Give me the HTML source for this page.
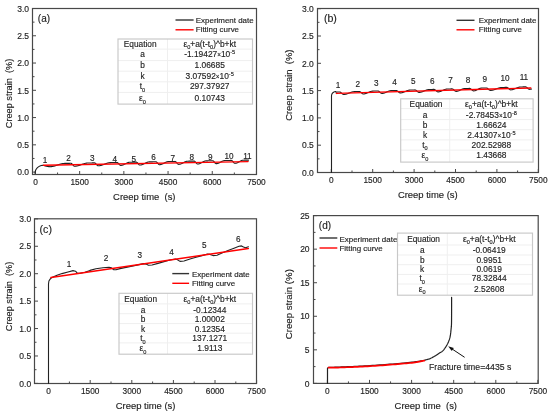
<!DOCTYPE html>
<html><head><meta charset="utf-8"><style>
html,body{margin:0;padding:0;background:#fff;width:550px;height:413px;overflow:hidden;position:relative}
svg text{font-family:"Liberation Sans", sans-serif}
svg{will-change:transform;filter:blur(0.25px)}
svg text{stroke:#1e1e1e;stroke-width:0.15px}
</style></head><body>
<svg width="550" height="413" viewBox="0 0 550 413" style="position:absolute;left:0;top:0" font-family='"Liberation Sans", sans-serif' fill="#1e1e1e">
<rect width="550" height="413" fill="#fff"/>
<rect x="32.5" y="8.5" width="224" height="166" fill="none" stroke="#484848" stroke-width="1.2"/>
<line x1="32.5" y1="172.1" x2="36" y2="172.1" stroke="#484848" stroke-width="1"/>
<line x1="32.5" y1="144.83" x2="36" y2="144.83" stroke="#484848" stroke-width="1"/>
<line x1="32.5" y1="117.57" x2="36" y2="117.57" stroke="#484848" stroke-width="1"/>
<line x1="32.5" y1="90.3" x2="36" y2="90.3" stroke="#484848" stroke-width="1"/>
<line x1="32.5" y1="63.04" x2="36" y2="63.04" stroke="#484848" stroke-width="1"/>
<line x1="32.5" y1="35.78" x2="36" y2="35.78" stroke="#484848" stroke-width="1"/>
<line x1="32.5" y1="8.51" x2="36" y2="8.51" stroke="#484848" stroke-width="1"/>
<line x1="32.5" y1="158.47" x2="34.5" y2="158.47" stroke="#484848" stroke-width="1"/>
<line x1="32.5" y1="131.2" x2="34.5" y2="131.2" stroke="#484848" stroke-width="1"/>
<line x1="32.5" y1="103.94" x2="34.5" y2="103.94" stroke="#484848" stroke-width="1"/>
<line x1="32.5" y1="76.67" x2="34.5" y2="76.67" stroke="#484848" stroke-width="1"/>
<line x1="32.5" y1="49.41" x2="34.5" y2="49.41" stroke="#484848" stroke-width="1"/>
<line x1="32.5" y1="22.14" x2="34.5" y2="22.14" stroke="#484848" stroke-width="1"/>
<line x1="35.45" y1="174.5" x2="35.45" y2="171" stroke="#484848" stroke-width="1"/>
<line x1="79.65" y1="174.5" x2="79.65" y2="171" stroke="#484848" stroke-width="1"/>
<line x1="123.85" y1="174.5" x2="123.85" y2="171" stroke="#484848" stroke-width="1"/>
<line x1="168.05" y1="174.5" x2="168.05" y2="171" stroke="#484848" stroke-width="1"/>
<line x1="212.25" y1="174.5" x2="212.25" y2="171" stroke="#484848" stroke-width="1"/>
<line x1="256.45" y1="174.5" x2="256.45" y2="171" stroke="#484848" stroke-width="1"/>
<line x1="57.55" y1="174.5" x2="57.55" y2="172.5" stroke="#484848" stroke-width="1"/>
<line x1="101.75" y1="174.5" x2="101.75" y2="172.5" stroke="#484848" stroke-width="1"/>
<line x1="145.95" y1="174.5" x2="145.95" y2="172.5" stroke="#484848" stroke-width="1"/>
<line x1="190.15" y1="174.5" x2="190.15" y2="172.5" stroke="#484848" stroke-width="1"/>
<line x1="234.35" y1="174.5" x2="234.35" y2="172.5" stroke="#484848" stroke-width="1"/>
<text x="29" y="175.3" font-size="8.5" text-anchor="end" >0.0</text>
<text x="29" y="148.03" font-size="8.5" text-anchor="end" >0.5</text>
<text x="29" y="120.77" font-size="8.5" text-anchor="end" >1.0</text>
<text x="29" y="93.5" font-size="8.5" text-anchor="end" >1.5</text>
<text x="29" y="66.24" font-size="8.5" text-anchor="end" >2.0</text>
<text x="29" y="38.98" font-size="8.5" text-anchor="end" >2.5</text>
<text x="29" y="11.71" font-size="8.5" text-anchor="end" >3.0</text>
<text x="35.45" y="184.6" font-size="8.3" text-anchor="middle" >0</text>
<text x="79.65" y="184.6" font-size="8.3" text-anchor="middle" >1500</text>
<text x="123.85" y="184.6" font-size="8.3" text-anchor="middle" >3000</text>
<text x="168.05" y="184.6" font-size="8.3" text-anchor="middle" >4500</text>
<text x="212.25" y="184.6" font-size="8.3" text-anchor="middle" >6000</text>
<text x="256.45" y="184.6" font-size="8.3" text-anchor="middle" >7500</text>
<path d="M35,173.3 L35.01,172.88 L35.05,172.46 L35.1,172.05 L35.18,171.64 L35.29,171.23 L35.41,170.83 L35.56,170.44 L35.73,170.05 L35.92,169.67 L36.13,169.3 L36.36,168.95 L36.6,168.6 L36.87,168.27 L37.16,167.95 L37.46,167.65 L37.78,167.36 L38.11,167.09 L38.46,166.83 L38.83,166.6 L39.2,166.38 L39.59,166.18 L39.98,166 L40.39,165.84 L40.8,165.7 L41.23,165.58 L41.65,165.48 L42.09,165.4 L42.52,165.35 L42.96,165.32 L43.4,165.31 L43.2,165.31 L43.43,165.38 L43.66,165.45 L43.89,165.52 L44.11,165.59 L44.34,165.66 L44.57,165.73 L44.8,165.8 L45.03,165.86 L45.26,165.93 L45.48,165.99 L45.71,166.05 L45.94,166.11 L46.17,166.17 L46.4,166.22 L46.63,166.27 L46.85,166.32 L47.08,166.37 L47.31,166.41 L47.54,166.46 L47.77,166.49 L48,166.53 L48.22,166.56 L48.45,166.59 L48.68,166.61 L48.91,166.63 L49.14,166.65 L49.37,166.66 L49.59,166.67 L49.82,166.68 L50.05,166.68 L50.28,166.68 L50.51,166.67 L50.74,166.66 L50.96,166.65 L51.19,166.63 L51.42,166.61 L51.65,166.59 L51.88,166.56 L52.11,166.53 L52.33,166.49 L52.56,166.45 L52.79,166.41 L53.02,166.37 L53.25,166.32 L53.48,166.27 L53.7,166.21 L53.93,166.16 L54.16,166.1 L54.39,166.04 L54.62,165.97 L54.85,165.91 L55.07,165.84 L55.3,165.77 L55.53,165.7 L55.76,165.62 L55.99,165.55 L56.22,165.47 L56.45,165.39 L56.67,165.32 L56.9,165.24 L57.13,165.16 L57.36,165.08 L57.59,165 L57.82,164.92 L58.04,164.84 L58.27,164.76 L58.5,164.69 L58.73,164.61 L58.96,164.53 L59.19,164.46 L59.41,164.38 L59.64,164.31 L59.87,164.24 L60.1,164.18 L60.33,164.11 L60.56,164.05 L60.78,163.98 L61.01,163.93 L61.24,163.87 L61.47,163.82 L61.7,163.77 L61.93,163.72 L62.15,163.67 L62.38,163.63 L62.61,163.6 L62.84,163.56 L63.07,163.53 L63.3,163.5 L63.52,163.48 L63.75,163.46 L63.98,163.44 L64.21,163.43 L64.44,163.42 L64.67,163.42 L64.89,163.41 L65.12,163.41 L65.35,163.4 L65.58,163.4 L65.81,163.4 L66.04,163.39 L66.26,163.39 L66.49,163.38 L66.72,163.38 L66.95,163.38 L67.18,163.37 L67.41,163.37 L67.64,163.36 L67.86,163.36 L68.09,163.36 L68.32,163.35 L68.55,163.35 L68.78,163.34 L69.01,163.34 L69.23,163.33 L69.46,163.33 L69.69,163.33 L69.92,163.32 L70.15,163.32 L70.38,163.31 L70.6,163.31 L70.83,163.31 L71.06,163.32 L71.29,163.38 L71.52,163.49 L71.75,163.66 L71.97,163.87 L72.2,164.11 L72.43,164.37 L72.66,164.66 L72.89,164.94 L73.12,165.22 L73.34,165.49 L73.57,165.72 L73.8,165.92 L74.03,166.07 L74.26,166.18 L74.49,166.23 L74.71,166.23 L74.94,166.23 L75.17,166.21 L75.4,166.2 L75.63,166.18 L75.86,166.15 L76.08,166.12 L76.31,166.09 L76.54,166.05 L76.77,166.01 L77,165.97 L77.23,165.92 L77.45,165.87 L77.68,165.82 L77.91,165.76 L78.14,165.7 L78.37,165.64 L78.6,165.57 L78.82,165.5 L79.05,165.43 L79.28,165.36 L79.51,165.28 L79.74,165.21 L79.97,165.13 L80.2,165.05 L80.42,164.97 L80.65,164.89 L80.88,164.8 L81.11,164.72 L81.34,164.64 L81.57,164.55 L81.79,164.47 L82.02,164.39 L82.25,164.31 L82.48,164.22 L82.71,164.14 L82.94,164.07 L83.16,163.99 L83.39,163.91 L83.62,163.84 L83.85,163.77 L84.08,163.7 L84.31,163.63 L84.53,163.56 L84.76,163.5 L84.99,163.44 L85.22,163.39 L85.45,163.33 L85.68,163.28 L85.9,163.24 L86.13,163.2 L86.36,163.16 L86.59,163.12 L86.82,163.09 L87.05,163.07 L87.27,163.04 L87.5,163.02 L87.73,163.01 L87.96,163 L88.19,162.99 L88.42,162.99 L88.64,162.98 L88.87,162.98 L89.1,162.97 L89.33,162.97 L89.56,162.97 L89.79,162.96 L90.01,162.96 L90.24,162.95 L90.47,162.95 L90.7,162.95 L90.93,162.94 L91.16,162.94 L91.38,162.93 L91.61,162.93 L91.84,162.93 L92.07,162.92 L92.3,162.92 L92.53,162.91 L92.76,162.91 L92.98,162.9 L93.21,162.9 L93.44,162.9 L93.67,162.89 L93.9,162.89 L94.13,162.88 L94.35,162.88 L94.58,162.88 L94.81,162.92 L95.04,163.02 L95.27,163.17 L95.5,163.36 L95.72,163.59 L95.95,163.85 L96.18,164.13 L96.41,164.42 L96.64,164.7 L96.87,164.97 L97.09,165.22 L97.32,165.43 L97.55,165.6 L97.78,165.72 L98.01,165.79 L98.24,165.81 L98.46,165.8 L98.69,165.79 L98.92,165.77 L99.15,165.75 L99.38,165.72 L99.61,165.69 L99.83,165.66 L100.06,165.62 L100.29,165.57 L100.52,165.52 L100.75,165.47 L100.98,165.41 L101.2,165.35 L101.43,165.28 L101.66,165.21 L101.89,165.14 L102.12,165.07 L102.35,164.99 L102.57,164.91 L102.8,164.83 L103.03,164.75 L103.26,164.66 L103.49,164.57 L103.72,164.49 L103.95,164.4 L104.17,164.31 L104.4,164.22 L104.63,164.13 L104.86,164.04 L105.09,163.95 L105.32,163.86 L105.54,163.77 L105.77,163.68 L106,163.6 L106.23,163.52 L106.46,163.44 L106.69,163.36 L106.91,163.28 L107.14,163.21 L107.37,163.14 L107.6,163.07 L107.83,163.01 L108.06,162.95 L108.28,162.9 L108.51,162.84 L108.74,162.8 L108.97,162.76 L109.2,162.72 L109.43,162.68 L109.65,162.65 L109.88,162.63 L110.11,162.61 L110.34,162.6 L110.57,162.59 L110.8,162.58 L111.02,162.58 L111.25,162.57 L111.48,162.57 L111.71,162.57 L111.94,162.56 L112.17,162.56 L112.39,162.55 L112.62,162.55 L112.85,162.55 L113.08,162.54 L113.31,162.54 L113.54,162.53 L113.76,162.53 L113.99,162.52 L114.22,162.52 L114.45,162.52 L114.68,162.51 L114.91,162.51 L115.13,162.5 L115.36,162.5 L115.59,162.5 L115.82,162.49 L116.05,162.49 L116.28,162.48 L116.51,162.48 L116.73,162.47 L116.96,162.47 L117.19,162.49 L117.42,162.56 L117.65,162.68 L117.88,162.85 L118.1,163.06 L118.33,163.31 L118.56,163.58 L118.79,163.86 L119.02,164.15 L119.25,164.42 L119.47,164.68 L119.7,164.91 L119.93,165.11 L120.16,165.26 L120.39,165.36 L120.62,165.4 L120.84,165.4 L121.07,165.38 L121.3,165.36 L121.53,165.33 L121.76,165.29 L121.99,165.24 L122.21,165.18 L122.44,165.11 L122.67,165.04 L122.9,164.96 L123.13,164.87 L123.36,164.78 L123.58,164.68 L123.81,164.58 L124.04,164.47 L124.27,164.36 L124.5,164.24 L124.73,164.12 L124.95,164 L125.18,163.88 L125.41,163.76 L125.64,163.64 L125.87,163.52 L126.1,163.4 L126.32,163.29 L126.55,163.17 L126.78,163.07 L127.01,162.96 L127.24,162.86 L127.47,162.77 L127.69,162.68 L127.92,162.6 L128.15,162.53 L128.38,162.46 L128.61,162.4 L128.84,162.35 L129.07,162.31 L129.29,162.28 L129.52,162.26 L129.75,162.24 L129.98,162.24 L130.21,162.23 L130.44,162.23 L130.66,162.22 L130.89,162.22 L131.12,162.21 L131.35,162.21 L131.58,162.21 L131.81,162.2 L132.03,162.2 L132.26,162.19 L132.49,162.19 L132.72,162.19 L132.95,162.18 L133.18,162.18 L133.4,162.17 L133.63,162.17 L133.86,162.17 L134.09,162.16 L134.32,162.16 L134.55,162.15 L134.77,162.15 L135,162.14 L135.23,162.14 L135.46,162.14 L135.69,162.13 L135.92,162.13 L136.14,162.12 L136.37,162.14 L136.6,162.2 L136.83,162.32 L137.06,162.49 L137.29,162.7 L137.51,162.94 L137.74,163.21 L137.97,163.49 L138.2,163.78 L138.43,164.06 L138.66,164.32 L138.88,164.55 L139.11,164.75 L139.34,164.9 L139.57,165 L139.8,165.05 L140.03,165.05 L140.26,165.04 L140.48,165.02 L140.71,164.99 L140.94,164.95 L141.17,164.91 L141.4,164.85 L141.63,164.79 L141.85,164.72 L142.08,164.65 L142.31,164.57 L142.54,164.48 L142.77,164.39 L143,164.29 L143.22,164.19 L143.45,164.09 L143.68,163.98 L143.91,163.87 L144.14,163.75 L144.37,163.64 L144.59,163.52 L144.82,163.41 L145.05,163.29 L145.28,163.18 L145.51,163.06 L145.74,162.95 L145.96,162.84 L146.19,162.74 L146.42,162.64 L146.65,162.54 L146.88,162.45 L147.11,162.36 L147.33,162.28 L147.56,162.21 L147.79,162.14 L148.02,162.08 L148.25,162.03 L148.48,161.98 L148.7,161.95 L148.93,161.92 L149.16,161.9 L149.39,161.89 L149.62,161.88 L149.85,161.88 L150.07,161.87 L150.3,161.87 L150.53,161.86 L150.76,161.86 L150.99,161.86 L151.22,161.85 L151.44,161.85 L151.67,161.84 L151.9,161.84 L152.13,161.83 L152.36,161.83 L152.59,161.83 L152.82,161.82 L153.04,161.82 L153.27,161.81 L153.5,161.81 L153.73,161.81 L153.96,161.8 L154.19,161.8 L154.41,161.79 L154.64,161.79 L154.87,161.78 L155.1,161.78 L155.33,161.78 L155.56,161.77 L155.78,161.77 L156.01,161.79 L156.24,161.86 L156.47,161.99 L156.7,162.17 L156.93,162.38 L157.15,162.63 L157.38,162.9 L157.61,163.19 L157.84,163.47 L158.07,163.75 L158.3,164.01 L158.52,164.23 L158.75,164.42 L158.98,164.57 L159.21,164.66 L159.44,164.7 L159.67,164.7 L159.89,164.68 L160.12,164.66 L160.35,164.62 L160.58,164.58 L160.81,164.53 L161.04,164.47 L161.26,164.41 L161.49,164.33 L161.72,164.25 L161.95,164.16 L162.18,164.07 L162.41,163.97 L162.63,163.86 L162.86,163.76 L163.09,163.64 L163.32,163.53 L163.55,163.41 L163.78,163.29 L164.01,163.17 L164.23,163.05 L164.46,162.93 L164.69,162.81 L164.92,162.69 L165.15,162.57 L165.38,162.46 L165.6,162.35 L165.83,162.25 L166.06,162.15 L166.29,162.06 L166.52,161.97 L166.75,161.89 L166.97,161.82 L167.2,161.75 L167.43,161.7 L167.66,161.65 L167.89,161.61 L168.12,161.58 L168.34,161.55 L168.57,161.54 L168.8,161.53 L169.03,161.53 L169.26,161.52 L169.49,161.52 L169.71,161.52 L169.94,161.51 L170.17,161.51 L170.4,161.5 L170.63,161.5 L170.86,161.5 L171.08,161.49 L171.31,161.49 L171.54,161.48 L171.77,161.48 L172,161.48 L172.23,161.47 L172.45,161.47 L172.68,161.46 L172.91,161.46 L173.14,161.45 L173.37,161.45 L173.6,161.45 L173.82,161.44 L174.05,161.44 L174.28,161.43 L174.51,161.43 L174.74,161.43 L174.97,161.42 L175.19,161.44 L175.42,161.51 L175.65,161.63 L175.88,161.8 L176.11,162.02 L176.34,162.26 L176.57,162.53 L176.79,162.82 L177.02,163.1 L177.25,163.38 L177.48,163.64 L177.71,163.87 L177.94,164.06 L178.16,164.21 L178.39,164.31 L178.62,164.35 L178.85,164.35 L179.08,164.33 L179.31,164.31 L179.53,164.28 L179.76,164.23 L179.99,164.18 L180.22,164.12 L180.45,164.05 L180.68,163.98 L180.9,163.89 L181.13,163.8 L181.36,163.7 L181.59,163.6 L181.82,163.49 L182.05,163.38 L182.27,163.27 L182.5,163.15 L182.73,163.03 L182.96,162.9 L183.19,162.78 L183.42,162.66 L183.64,162.53 L183.87,162.41 L184.1,162.29 L184.33,162.18 L184.56,162.06 L184.79,161.95 L185.01,161.85 L185.24,161.75 L185.47,161.66 L185.7,161.58 L185.93,161.5 L186.16,161.43 L186.38,161.37 L186.61,161.32 L186.84,161.27 L187.07,161.24 L187.3,161.21 L187.53,161.2 L187.75,161.19 L187.98,161.19 L188.21,161.18 L188.44,161.18 L188.67,161.17 L188.9,161.17 L189.13,161.17 L189.35,161.16 L189.58,161.16 L189.81,161.15 L190.04,161.15 L190.27,161.14 L190.5,161.14 L190.72,161.14 L190.95,161.13 L191.18,161.13 L191.41,161.12 L191.64,161.12 L191.87,161.12 L192.09,161.11 L192.32,161.11 L192.55,161.1 L192.78,161.1 L193.01,161.09 L193.24,161.09 L193.46,161.09 L193.69,161.08 L193.92,161.08 L194.15,161.09 L194.38,161.15 L194.61,161.26 L194.83,161.42 L195.06,161.63 L195.29,161.87 L195.52,162.13 L195.75,162.42 L195.98,162.7 L196.2,162.98 L196.43,163.25 L196.66,163.48 L196.89,163.68 L197.12,163.84 L197.35,163.95 L197.57,164 L197.8,164.01 L198.03,163.99 L198.26,163.97 L198.49,163.93 L198.72,163.89 L198.94,163.84 L199.17,163.77 L199.4,163.7 L199.63,163.62 L199.86,163.53 L200.09,163.43 L200.32,163.33 L200.54,163.22 L200.77,163.11 L201,162.99 L201.23,162.86 L201.46,162.74 L201.69,162.61 L201.91,162.48 L202.14,162.35 L202.37,162.22 L202.6,162.1 L202.83,161.97 L203.06,161.85 L203.28,161.73 L203.51,161.62 L203.74,161.51 L203.97,161.41 L204.2,161.31 L204.43,161.23 L204.65,161.15 L204.88,161.08 L205.11,161.02 L205.34,160.96 L205.57,160.92 L205.8,160.89 L206.02,160.87 L206.25,160.86 L206.48,160.85 L206.71,160.85 L206.94,160.84 L207.17,160.84 L207.39,160.83 L207.62,160.83 L207.85,160.83 L208.08,160.82 L208.31,160.82 L208.54,160.81 L208.76,160.81 L208.99,160.81 L209.22,160.8 L209.45,160.8 L209.68,160.79 L209.91,160.79 L210.13,160.79 L210.36,160.78 L210.59,160.78 L210.82,160.77 L211.05,160.77 L211.28,160.76 L211.5,160.76 L211.73,160.76 L211.96,160.75 L212.19,160.75 L212.42,160.74 L212.65,160.74 L212.88,160.78 L213.1,160.87 L213.33,161.01 L213.56,161.19 L213.79,161.42 L214.02,161.68 L214.25,161.95 L214.47,162.24 L214.7,162.52 L214.93,162.79 L215.16,163.04 L215.39,163.26 L215.62,163.44 L215.84,163.57 L216.07,163.65 L216.3,163.67 L216.53,163.66 L216.76,163.64 L216.99,163.62 L217.21,163.58 L217.44,163.53 L217.67,163.47 L217.9,163.4 L218.13,163.33 L218.36,163.24 L218.58,163.15 L218.81,163.05 L219.04,162.95 L219.27,162.84 L219.5,162.72 L219.73,162.6 L219.95,162.48 L220.18,162.36 L220.41,162.23 L220.64,162.1 L220.87,161.97 L221.1,161.85 L221.32,161.72 L221.55,161.6 L221.78,161.48 L222.01,161.36 L222.24,161.25 L222.47,161.15 L222.69,161.05 L222.92,160.96 L223.15,160.87 L223.38,160.79 L223.61,160.73 L223.84,160.67 L224.06,160.62 L224.29,160.58 L224.52,160.55 L224.75,160.53 L224.98,160.52 L225.21,160.51 L225.44,160.51 L225.66,160.5 L225.89,160.5 L226.12,160.5 L226.35,160.49 L226.58,160.49 L226.81,160.48 L227.03,160.48 L227.26,160.48 L227.49,160.47 L227.72,160.47 L227.95,160.46 L228.18,160.46 L228.4,160.45 L228.63,160.45 L228.86,160.45 L229.09,160.44 L229.32,160.44 L229.55,160.43 L229.77,160.43 L230,160.43 L230.23,160.42 L230.46,160.42 L230.69,160.41 L230.92,160.41 L231.14,160.4 L231.37,160.4 L231.6,160.45 L231.83,160.54 L232.06,160.69 L232.29,160.88 L232.51,161.11 L232.74,161.37 L232.97,161.65 L233.2,161.93 L233.43,162.21 L233.66,162.48 L233.88,162.73 L234.11,162.95 L234.34,163.12 L234.57,163.24 L234.8,163.32 L235.03,163.33 L235.25,163.32 L235.48,163.3 L235.71,163.27 L235.94,163.23 L236.17,163.17 L236.4,163.11 L236.63,163.04 L236.85,162.96 L237.08,162.87 L237.31,162.77 L237.54,162.66 L237.77,162.55 L238,162.43 L238.22,162.31 L238.45,162.19 L238.68,162.06 L238.91,161.93 L239.14,161.8 L239.37,161.66 L239.59,161.53 L239.82,161.4 L240.05,161.27 L240.28,161.15 L240.51,161.03 L240.74,160.92 L240.96,160.81 L241.19,160.71 L241.42,160.61 L241.65,160.53 L241.88,160.45 L242.11,160.38 L242.33,160.32 L242.56,160.27 L242.79,160.23 L243.02,160.21 L243.25,160.19 L243.48,160.18 L243.7,160.18 L243.93,160.17 L244.16,160.17 L244.39,160.17 L244.62,160.16 L244.85,160.16 L245.07,160.15 L245.3,160.15 L245.53,160.14 L245.76,160.14 L245.99,160.14 L246.22,160.13 L246.44,160.13 L246.67,160.12 L246.9,160.12 L247.13,160.12 L247.36,160.11 L247.59,160.11 L247.81,160.1 L248.04,160.1 L248.27,160.1 L248.5,160.09" fill="none" stroke="#222" stroke-width="1.1" stroke-linejoin="round" stroke-linecap="round"/>
<path d="M43.5,165.3 L248,161.6" fill="none" stroke="#ff0000" stroke-width="1.45" stroke-linejoin="round" stroke-linecap="round"/>
<text x="45" y="163.2" font-size="8.2" text-anchor="middle" >1</text>
<text x="68.6" y="161.3" font-size="8.2" text-anchor="middle" >2</text>
<text x="92.2" y="161.3" font-size="8.2" text-anchor="middle" >3</text>
<text x="114.7" y="162.3" font-size="8.2" text-anchor="middle" >4</text>
<text x="133.9" y="162.1" font-size="8.2" text-anchor="middle" >5</text>
<text x="153.5" y="160.3" font-size="8.2" text-anchor="middle" >6</text>
<text x="172.7" y="161.3" font-size="8.2" text-anchor="middle" >7</text>
<text x="191.7" y="159.9" font-size="8.2" text-anchor="middle" >8</text>
<text x="210.3" y="159.9" font-size="8.2" text-anchor="middle" >9</text>
<text x="229" y="159.4" font-size="8.2" text-anchor="middle" >10</text>
<text x="247.4" y="158.7" font-size="8.2" text-anchor="middle" >11</text>
<text x="37.8" y="21.5" font-size="10" text-anchor="start" >(a)</text>
<line x1="175.5" y1="20" x2="193.6" y2="20" stroke="#333" stroke-width="1.4"/>
<line x1="175.5" y1="29.8" x2="193.6" y2="29.8" stroke="#ff0000" stroke-width="1.4"/>
<text x="195.8" y="22.9" font-size="7.95" text-anchor="start" >Experiment date</text>
<text x="195.8" y="32.4" font-size="7.95" text-anchor="start" >Fitting curve</text>
<rect x="118" y="39" width="134.5" height="65.1" fill="#fff" stroke="none"/>
<line x1="118" y1="49.1" x2="252.5" y2="49.1" stroke="#efefef" stroke-width="1"/>
<line x1="118" y1="60.6" x2="252.5" y2="60.6" stroke="#efefef" stroke-width="1"/>
<line x1="118" y1="71.2" x2="252.5" y2="71.2" stroke="#efefef" stroke-width="1"/>
<line x1="118" y1="81.8" x2="252.5" y2="81.8" stroke="#efefef" stroke-width="1"/>
<line x1="118" y1="92.4" x2="252.5" y2="92.4" stroke="#efefef" stroke-width="1"/>
<line x1="167.5" y1="39" x2="167.5" y2="104.1" stroke="#efefef" stroke-width="1"/>
<rect x="118" y="39" width="134.5" height="65.1" fill="none" stroke="#c8c8c8" stroke-width="1.15"/>
<text x="140.2" y="46.7" font-size="8.3" text-anchor="middle" >Equation</text>
<text x="209.7" y="46.7" font-size="8.4" text-anchor="middle" >&#949;<tspan font-size="5.6" dy="2.4">0</tspan><tspan dy="-2.4">&#8203;</tspan>+a(t-t<tspan font-size="5.6" dy="2.4">0</tspan><tspan dy="-2.4">&#8203;</tspan>)^b+kt</text>
<text x="142.5" y="57.2" font-size="8.3" text-anchor="middle" >a</text>
<text x="209.7" y="57.2" font-size="8.4" text-anchor="middle" >-1.19427<tspan font-size="6.3">&#215;</tspan>10<tspan font-size="5.6" dy="-3">-5</tspan></text>
<text x="142.5" y="68.2" font-size="8.3" text-anchor="middle" >b</text>
<text x="209.7" y="68.2" font-size="8.4" text-anchor="middle" >1.06685</text>
<text x="142.5" y="79" font-size="8.3" text-anchor="middle" >k</text>
<text x="209.7" y="79" font-size="8.4" text-anchor="middle" >3.07592<tspan font-size="6.3">&#215;</tspan>10<tspan font-size="5.6" dy="-3">-5</tspan></text>
<text x="142.5" y="89.4" font-size="8.3" text-anchor="middle" >t<tspan font-size="5.6" dy="2.4">0</tspan><tspan dy="-2.4">&#8203;</tspan></text>
<text x="209.7" y="89.4" font-size="8.4" text-anchor="middle" >297.37927</text>
<text x="142.5" y="101.1" font-size="8.3" text-anchor="middle" >&#949;<tspan font-size="5.6" dy="2.4">0</tspan><tspan dy="-2.4">&#8203;</tspan></text>
<text x="209.7" y="101.1" font-size="8.4" text-anchor="middle" >0.10743</text>
<text x="0" y="0" font-size="9.2" text-anchor="middle" transform="translate(11.8,93.5) rotate(-90)">Creep strain&#160;&#160;(%)</text>
<text x="144.3" y="199.7" font-size="9.45" text-anchor="middle" >Creep time&#160;&#160;(s)</text>
<rect x="317.5" y="8.5" width="221" height="164" fill="none" stroke="#484848" stroke-width="1.2"/>
<line x1="317.5" y1="172.5" x2="321" y2="172.5" stroke="#484848" stroke-width="1"/>
<line x1="317.5" y1="145.2" x2="321" y2="145.2" stroke="#484848" stroke-width="1"/>
<line x1="317.5" y1="117.9" x2="321" y2="117.9" stroke="#484848" stroke-width="1"/>
<line x1="317.5" y1="90.6" x2="321" y2="90.6" stroke="#484848" stroke-width="1"/>
<line x1="317.5" y1="63.3" x2="321" y2="63.3" stroke="#484848" stroke-width="1"/>
<line x1="317.5" y1="36" x2="321" y2="36" stroke="#484848" stroke-width="1"/>
<line x1="317.5" y1="8.7" x2="321" y2="8.7" stroke="#484848" stroke-width="1"/>
<line x1="317.5" y1="158.85" x2="319.5" y2="158.85" stroke="#484848" stroke-width="1"/>
<line x1="317.5" y1="131.55" x2="319.5" y2="131.55" stroke="#484848" stroke-width="1"/>
<line x1="317.5" y1="104.25" x2="319.5" y2="104.25" stroke="#484848" stroke-width="1"/>
<line x1="317.5" y1="76.95" x2="319.5" y2="76.95" stroke="#484848" stroke-width="1"/>
<line x1="317.5" y1="49.65" x2="319.5" y2="49.65" stroke="#484848" stroke-width="1"/>
<line x1="317.5" y1="22.35" x2="319.5" y2="22.35" stroke="#484848" stroke-width="1"/>
<line x1="331.3" y1="172.5" x2="331.3" y2="169" stroke="#484848" stroke-width="1"/>
<line x1="372.7" y1="172.5" x2="372.7" y2="169" stroke="#484848" stroke-width="1"/>
<line x1="414.1" y1="172.5" x2="414.1" y2="169" stroke="#484848" stroke-width="1"/>
<line x1="455.5" y1="172.5" x2="455.5" y2="169" stroke="#484848" stroke-width="1"/>
<line x1="496.9" y1="172.5" x2="496.9" y2="169" stroke="#484848" stroke-width="1"/>
<line x1="538.3" y1="172.5" x2="538.3" y2="169" stroke="#484848" stroke-width="1"/>
<line x1="352" y1="172.5" x2="352" y2="170.5" stroke="#484848" stroke-width="1"/>
<line x1="393.4" y1="172.5" x2="393.4" y2="170.5" stroke="#484848" stroke-width="1"/>
<line x1="434.8" y1="172.5" x2="434.8" y2="170.5" stroke="#484848" stroke-width="1"/>
<line x1="476.2" y1="172.5" x2="476.2" y2="170.5" stroke="#484848" stroke-width="1"/>
<line x1="517.6" y1="172.5" x2="517.6" y2="170.5" stroke="#484848" stroke-width="1"/>
<text x="313.8" y="175.7" font-size="8.5" text-anchor="end" >0.0</text>
<text x="313.8" y="148.4" font-size="8.5" text-anchor="end" >0.5</text>
<text x="313.8" y="121.1" font-size="8.5" text-anchor="end" >1.0</text>
<text x="313.8" y="93.8" font-size="8.5" text-anchor="end" >1.5</text>
<text x="313.8" y="66.5" font-size="8.5" text-anchor="end" >2.0</text>
<text x="313.8" y="39.2" font-size="8.5" text-anchor="end" >2.5</text>
<text x="313.8" y="11.9" font-size="8.5" text-anchor="end" >3.0</text>
<text x="331.3" y="182.5" font-size="8.3" text-anchor="middle" >0</text>
<text x="372.7" y="182.5" font-size="8.3" text-anchor="middle" >1500</text>
<text x="414.1" y="182.5" font-size="8.3" text-anchor="middle" >3000</text>
<text x="455.5" y="182.5" font-size="8.3" text-anchor="middle" >4500</text>
<text x="496.9" y="182.5" font-size="8.3" text-anchor="middle" >6000</text>
<text x="538.3" y="182.5" font-size="8.3" text-anchor="middle" >7500</text>
<path d="M331.5,172.5 L331.5,96 L331.5,96 L331.52,95.54 L331.59,95.09 L331.71,94.64 L331.86,94.21 L332.06,93.8 L332.3,93.41 L332.58,93.06 L332.89,92.73 L333.23,92.44 L333.6,92.19 L333.99,91.98 L334.4,91.82 L334.83,91.7 L335.26,91.62 L335.7,91.6 L336,92.11 L336.22,92.11 L336.43,92.1 L336.65,92.09 L336.87,92.09 L337.09,92.08 L337.3,92.07 L337.52,92.07 L337.74,92.06 L337.96,92.06 L338.17,92.05 L338.39,92.04 L338.61,92.04 L338.83,92.03 L339.04,92.03 L339.26,92.02 L339.48,92.01 L339.7,92.01 L339.91,92.04 L340.13,92.1 L340.35,92.19 L340.57,92.31 L340.78,92.46 L341,92.62 L341.22,92.81 L341.44,93.01 L341.65,93.21 L341.87,93.41 L342.09,93.61 L342.31,93.81 L342.52,93.98 L342.74,94.14 L342.96,94.27 L343.18,94.37 L343.39,94.45 L343.61,94.49 L343.83,94.49 L344.05,94.48 L344.26,94.47 L344.48,94.45 L344.7,94.42 L344.92,94.39 L345.13,94.36 L345.35,94.32 L345.57,94.27 L345.79,94.22 L346,94.17 L346.22,94.11 L346.44,94.05 L346.66,93.98 L346.87,93.91 L347.09,93.84 L347.31,93.77 L347.53,93.69 L347.74,93.61 L347.96,93.52 L348.18,93.44 L348.4,93.35 L348.61,93.26 L348.83,93.18 L349.05,93.09 L349.27,93 L349.48,92.91 L349.7,92.82 L349.92,92.73 L350.14,92.65 L350.35,92.56 L350.57,92.48 L350.79,92.4 L351.01,92.32 L351.22,92.25 L351.44,92.17 L351.66,92.1 L351.87,92.04 L352.09,91.98 L352.31,91.92 L352.53,91.86 L352.74,91.81 L352.96,91.77 L353.18,91.73 L353.4,91.7 L353.61,91.67 L353.83,91.64 L354.05,91.62 L354.27,91.61 L354.48,91.6 L354.7,91.59 L354.92,91.59 L355.14,91.58 L355.35,91.57 L355.57,91.57 L355.79,91.56 L356.01,91.56 L356.22,91.55 L356.44,91.54 L356.66,91.54 L356.88,91.53 L357.09,91.53 L357.31,91.52 L357.53,91.51 L357.75,91.51 L357.96,91.5 L358.18,91.49 L358.4,91.49 L358.62,91.48 L358.83,91.48 L359.05,91.47 L359.27,91.47 L359.49,91.49 L359.7,91.54 L359.92,91.63 L360.14,91.75 L360.36,91.89 L360.57,92.06 L360.79,92.24 L361.01,92.44 L361.23,92.64 L361.44,92.84 L361.66,93.04 L361.88,93.24 L362.1,93.42 L362.31,93.57 L362.53,93.71 L362.75,93.82 L362.97,93.89 L363.18,93.94 L363.4,93.95 L363.62,93.94 L363.84,93.93 L364.05,93.9 L364.27,93.87 L364.49,93.84 L364.71,93.8 L364.92,93.75 L365.14,93.7 L365.36,93.64 L365.58,93.58 L365.79,93.51 L366.01,93.44 L366.23,93.36 L366.44,93.28 L366.66,93.2 L366.88,93.11 L367.1,93.02 L367.31,92.93 L367.53,92.83 L367.75,92.74 L367.97,92.64 L368.18,92.54 L368.4,92.45 L368.62,92.35 L368.84,92.25 L369.05,92.16 L369.27,92.06 L369.49,91.97 L369.71,91.88 L369.92,91.8 L370.14,91.72 L370.36,91.64 L370.58,91.56 L370.79,91.49 L371.01,91.42 L371.23,91.36 L371.45,91.31 L371.66,91.26 L371.88,91.21 L372.1,91.18 L372.32,91.14 L372.53,91.12 L372.75,91.1 L372.97,91.09 L373.19,91.08 L373.4,91.07 L373.62,91.07 L373.84,91.06 L374.06,91.05 L374.27,91.05 L374.49,91.04 L374.71,91.04 L374.93,91.03 L375.14,91.02 L375.36,91.02 L375.58,91.01 L375.8,91.01 L376.01,91 L376.23,90.99 L376.45,90.99 L376.67,90.98 L376.88,90.98 L377.1,90.97 L377.32,90.96 L377.54,90.96 L377.75,90.95 L377.97,90.96 L378.19,90.99 L378.41,91.06 L378.62,91.17 L378.84,91.3 L379.06,91.45 L379.28,91.62 L379.49,91.81 L379.71,92.01 L379.93,92.22 L380.15,92.42 L380.36,92.62 L380.58,92.81 L380.8,92.98 L381.02,93.12 L381.23,93.25 L381.45,93.34 L381.67,93.4 L381.88,93.43 L382.1,93.43 L382.32,93.42 L382.54,93.4 L382.75,93.37 L382.97,93.34 L383.19,93.3 L383.41,93.25 L383.62,93.2 L383.84,93.14 L384.06,93.08 L384.28,93.01 L384.49,92.94 L384.71,92.86 L384.93,92.78 L385.15,92.69 L385.36,92.6 L385.58,92.51 L385.8,92.41 L386.02,92.32 L386.23,92.22 L386.45,92.12 L386.67,92.02 L386.89,91.92 L387.1,91.82 L387.32,91.72 L387.54,91.62 L387.76,91.52 L387.97,91.43 L388.19,91.34 L388.41,91.25 L388.63,91.17 L388.84,91.09 L389.06,91.01 L389.28,90.94 L389.5,90.88 L389.71,90.82 L389.93,90.77 L390.15,90.72 L390.37,90.68 L390.58,90.64 L390.8,90.61 L391.02,90.59 L391.24,90.58 L391.45,90.57 L391.67,90.56 L391.89,90.56 L392.11,90.55 L392.32,90.55 L392.54,90.54 L392.76,90.53 L392.98,90.53 L393.19,90.52 L393.41,90.52 L393.63,90.51 L393.85,90.5 L394.06,90.5 L394.28,90.49 L394.5,90.49 L394.72,90.48 L394.93,90.47 L395.15,90.47 L395.37,90.46 L395.59,90.46 L395.8,90.45 L396.02,90.44 L396.24,90.44 L396.45,90.48 L396.67,90.54 L396.89,90.64 L397.11,90.77 L397.32,90.92 L397.54,91.09 L397.76,91.28 L397.98,91.47 L398.19,91.68 L398.41,91.88 L398.63,92.08 L398.85,92.27 L399.06,92.44 L399.28,92.59 L399.5,92.72 L399.72,92.82 L399.93,92.89 L400.15,92.92 L400.37,92.92 L400.59,92.91 L400.8,92.89 L401.02,92.87 L401.24,92.84 L401.46,92.81 L401.67,92.77 L401.89,92.72 L402.11,92.67 L402.33,92.61 L402.54,92.55 L402.76,92.48 L402.98,92.41 L403.2,92.33 L403.41,92.25 L403.63,92.17 L403.85,92.09 L404.07,92 L404.28,91.91 L404.5,91.81 L404.72,91.72 L404.94,91.63 L405.15,91.53 L405.37,91.43 L405.59,91.34 L405.81,91.24 L406.02,91.15 L406.24,91.06 L406.46,90.97 L406.68,90.88 L406.89,90.79 L407.11,90.71 L407.33,90.63 L407.55,90.56 L407.76,90.49 L407.98,90.42 L408.2,90.36 L408.42,90.3 L408.63,90.25 L408.85,90.2 L409.07,90.16 L409.29,90.13 L409.5,90.1 L409.72,90.08 L409.94,90.06 L410.16,90.05 L410.37,90.05 L410.59,90.04 L410.81,90.03 L411.03,90.03 L411.24,90.02 L411.46,90.02 L411.68,90.01 L411.89,90 L412.11,90 L412.33,89.99 L412.55,89.98 L412.76,89.98 L412.98,89.97 L413.2,89.97 L413.42,89.96 L413.63,89.95 L413.85,89.95 L414.07,89.94 L414.29,89.94 L414.5,89.93 L414.72,89.92 L414.94,89.92 L415.16,89.94 L415.37,89.99 L415.59,90.07 L415.81,90.18 L416.03,90.32 L416.24,90.49 L416.46,90.67 L416.68,90.86 L416.9,91.06 L417.11,91.27 L417.33,91.47 L417.55,91.66 L417.77,91.84 L417.98,92.01 L418.2,92.14 L418.42,92.26 L418.64,92.34 L418.85,92.39 L419.07,92.4 L419.29,92.4 L419.51,92.38 L419.72,92.36 L419.94,92.34 L420.16,92.3 L420.38,92.27 L420.59,92.22 L420.81,92.18 L421.03,92.12 L421.25,92.06 L421.46,92 L421.68,91.93 L421.9,91.86 L422.12,91.79 L422.33,91.71 L422.55,91.63 L422.77,91.54 L422.99,91.46 L423.2,91.37 L423.42,91.28 L423.64,91.18 L423.86,91.09 L424.07,91 L424.29,90.9 L424.51,90.81 L424.73,90.72 L424.94,90.62 L425.16,90.53 L425.38,90.44 L425.6,90.36 L425.81,90.27 L426.03,90.19 L426.25,90.11 L426.46,90.04 L426.68,89.97 L426.9,89.9 L427.12,89.84 L427.33,89.79 L427.55,89.74 L427.77,89.69 L427.99,89.65 L428.2,89.61 L428.42,89.58 L428.64,89.56 L428.86,89.54 L429.07,89.53 L429.29,89.52 L429.51,89.51 L429.73,89.51 L429.94,89.5 L430.16,89.5 L430.38,89.49 L430.6,89.48 L430.81,89.48 L431.03,89.47 L431.25,89.47 L431.47,89.46 L431.68,89.45 L431.9,89.45 L432.12,89.44 L432.34,89.44 L432.55,89.43 L432.77,89.42 L432.99,89.42 L433.21,89.41 L433.42,89.4 L433.64,89.4 L433.86,89.39 L434.08,89.4 L434.29,89.44 L434.51,89.51 L434.73,89.61 L434.95,89.74 L435.16,89.9 L435.38,90.07 L435.6,90.26 L435.82,90.46 L436.03,90.66 L436.25,90.87 L436.47,91.07 L436.69,91.25 L436.9,91.42 L437.12,91.57 L437.34,91.69 L437.56,91.78 L437.77,91.85 L437.99,91.87 L438.21,91.87 L438.43,91.86 L438.64,91.84 L438.86,91.81 L439.08,91.78 L439.3,91.73 L439.51,91.69 L439.73,91.63 L439.95,91.57 L440.17,91.51 L440.38,91.44 L440.6,91.36 L440.82,91.28 L441.04,91.19 L441.25,91.1 L441.47,91.01 L441.69,90.92 L441.9,90.82 L442.12,90.72 L442.34,90.62 L442.56,90.51 L442.77,90.41 L442.99,90.31 L443.21,90.21 L443.43,90.11 L443.64,90.01 L443.86,89.91 L444.08,89.82 L444.3,89.73 L444.51,89.64 L444.73,89.56 L444.95,89.48 L445.17,89.41 L445.38,89.34 L445.6,89.28 L445.82,89.22 L446.04,89.17 L446.25,89.13 L446.47,89.09 L446.69,89.06 L446.91,89.04 L447.12,89.03 L447.34,89.02 L447.56,89.01 L447.78,89.01 L447.99,89 L448.21,88.99 L448.43,88.99 L448.65,88.98 L448.86,88.98 L449.08,88.97 L449.3,88.96 L449.52,88.96 L449.73,88.95 L449.95,88.95 L450.17,88.94 L450.39,88.93 L450.6,88.93 L450.82,88.92 L451.04,88.92 L451.26,88.91 L451.47,88.9 L451.69,88.9 L451.91,88.89 L452.13,88.89 L452.34,88.92 L452.56,88.99 L452.78,89.08 L453,89.21 L453.21,89.35 L453.43,89.52 L453.65,89.71 L453.87,89.91 L454.08,90.11 L454.3,90.32 L454.52,90.52 L454.74,90.71 L454.95,90.88 L455.17,91.03 L455.39,91.16 L455.61,91.26 L455.82,91.33 L456.04,91.37 L456.26,91.37 L456.47,91.36 L456.69,91.34 L456.91,91.31 L457.13,91.27 L457.34,91.23 L457.56,91.18 L457.78,91.12 L458,91.05 L458.21,90.98 L458.43,90.9 L458.65,90.82 L458.87,90.73 L459.08,90.63 L459.3,90.54 L459.52,90.44 L459.74,90.33 L459.95,90.23 L460.17,90.12 L460.39,90.01 L460.61,89.9 L460.82,89.79 L461.04,89.68 L461.26,89.58 L461.48,89.47 L461.69,89.37 L461.91,89.27 L462.13,89.18 L462.35,89.09 L462.56,89.01 L462.78,88.93 L463,88.85 L463.22,88.79 L463.43,88.73 L463.65,88.68 L463.87,88.63 L464.09,88.6 L464.3,88.57 L464.52,88.55 L464.74,88.54 L464.96,88.53 L465.17,88.52 L465.39,88.52 L465.61,88.51 L465.83,88.5 L466.04,88.5 L466.26,88.49 L466.48,88.49 L466.7,88.48 L466.91,88.47 L467.13,88.47 L467.35,88.46 L467.57,88.46 L467.78,88.45 L468,88.44 L468.22,88.44 L468.44,88.43 L468.65,88.43 L468.87,88.42 L469.09,88.41 L469.31,88.41 L469.52,88.4 L469.74,88.42 L469.96,88.47 L470.18,88.55 L470.39,88.66 L470.61,88.79 L470.83,88.96 L471.05,89.14 L471.26,89.33 L471.48,89.53 L471.7,89.74 L471.91,89.94 L472.13,90.13 L472.35,90.32 L472.57,90.48 L472.78,90.62 L473,90.73 L473.22,90.82 L473.44,90.87 L473.65,90.89 L473.87,90.88 L474.09,90.86 L474.31,90.83 L474.52,90.79 L474.74,90.75 L474.96,90.69 L475.18,90.63 L475.39,90.55 L475.61,90.48 L475.83,90.39 L476.05,90.29 L476.26,90.2 L476.48,90.09 L476.7,89.98 L476.92,89.87 L477.13,89.76 L477.35,89.64 L477.57,89.52 L477.79,89.4 L478,89.28 L478.22,89.17 L478.44,89.05 L478.66,88.94 L478.87,88.83 L479.09,88.73 L479.31,88.63 L479.53,88.54 L479.74,88.46 L479.96,88.38 L480.18,88.31 L480.4,88.25 L480.61,88.19 L480.83,88.15 L481.05,88.11 L481.27,88.09 L481.48,88.07 L481.7,88.06 L481.92,88.06 L482.14,88.05 L482.35,88.05 L482.57,88.04 L482.79,88.03 L483.01,88.03 L483.22,88.02 L483.44,88.02 L483.66,88.01 L483.88,88 L484.09,88 L484.31,87.99 L484.53,87.99 L484.75,87.98 L484.96,87.97 L485.18,87.97 L485.4,87.96 L485.62,87.96 L485.83,87.95 L486.05,87.94 L486.27,87.94 L486.48,87.94 L486.7,87.98 L486.92,88.06 L487.14,88.16 L487.35,88.29 L487.57,88.45 L487.79,88.62 L488.01,88.81 L488.22,89.01 L488.44,89.22 L488.66,89.42 L488.88,89.62 L489.09,89.8 L489.31,89.97 L489.53,90.12 L489.75,90.24 L489.96,90.33 L490.18,90.39 L490.4,90.42 L490.62,90.42 L490.83,90.4 L491.05,90.39 L491.27,90.37 L491.49,90.34 L491.7,90.32 L491.92,90.28 L492.14,90.24 L492.36,90.2 L492.57,90.16 L492.79,90.11 L493.01,90.05 L493.23,89.99 L493.44,89.93 L493.66,89.87 L493.88,89.8 L494.1,89.73 L494.31,89.66 L494.53,89.58 L494.75,89.51 L494.97,89.43 L495.18,89.35 L495.4,89.27 L495.62,89.18 L495.84,89.1 L496.05,89.02 L496.27,88.93 L496.49,88.85 L496.71,88.77 L496.92,88.68 L497.14,88.6 L497.36,88.52 L497.58,88.44 L497.79,88.36 L498.01,88.29 L498.23,88.22 L498.45,88.14 L498.66,88.08 L498.88,88.01 L499.1,87.95 L499.32,87.89 L499.53,87.84 L499.75,87.78 L499.97,87.74 L500.19,87.69 L500.4,87.65 L500.62,87.62 L500.84,87.59 L501.06,87.56 L501.27,87.54 L501.49,87.52 L501.71,87.51 L501.92,87.5 L502.14,87.5 L502.36,87.49 L502.58,87.48 L502.79,87.48 L503.01,87.47 L503.23,87.47 L503.45,87.46 L503.66,87.45 L503.88,87.45 L504.1,87.44 L504.32,87.44 L504.53,87.43 L504.75,87.42 L504.97,87.42 L505.19,87.41 L505.4,87.41 L505.62,87.4 L505.84,87.39 L506.06,87.39 L506.27,87.38 L506.49,87.38 L506.71,87.37 L506.93,87.4 L507.14,87.46 L507.36,87.56 L507.58,87.68 L507.8,87.83 L508.01,87.99 L508.23,88.18 L508.45,88.38 L508.67,88.58 L508.88,88.79 L509.1,88.99 L509.32,89.18 L509.54,89.35 L509.75,89.51 L509.97,89.64 L510.19,89.74 L510.41,89.81 L510.62,89.85 L510.84,89.85 L511.06,89.84 L511.28,89.83 L511.49,89.8 L511.71,89.78 L511.93,89.74 L512.15,89.7 L512.36,89.66 L512.58,89.6 L512.8,89.55 L513.02,89.49 L513.23,89.42 L513.45,89.35 L513.67,89.27 L513.89,89.19 L514.1,89.11 L514.32,89.03 L514.54,88.94 L514.76,88.85 L514.97,88.76 L515.19,88.66 L515.41,88.57 L515.63,88.47 L515.84,88.38 L516.06,88.28 L516.28,88.19 L516.49,88.09 L516.71,88 L516.93,87.91 L517.15,87.82 L517.36,87.74 L517.58,87.65 L517.8,87.57 L518.02,87.5 L518.23,87.43 L518.45,87.36 L518.67,87.3 L518.89,87.24 L519.1,87.19 L519.32,87.14 L519.54,87.1 L519.76,87.06 L519.97,87.04 L520.19,87.01 L520.41,86.99 L520.63,86.98 L520.84,86.98 L521.06,86.97 L521.28,86.96 L521.5,86.96 L521.71,86.95 L521.93,86.95 L522.15,86.94 L522.37,86.93 L522.58,86.93 L522.8,86.92 L523.02,86.92 L523.24,86.91 L523.45,86.9 L523.67,86.9 L523.89,86.89 L524.11,86.89 L524.32,86.88 L524.54,86.87 L524.76,86.87 L524.98,86.86 L525.19,86.86 L525.41,86.85 L525.63,86.86 L525.85,86.91 L526.06,86.99 L526.28,87.1 L526.5,87.23 L526.72,87.39 L526.93,87.57 L527.15,87.77 L527.37,87.97 L527.59,88.17 L527.8,88.38 L528.02,88.57 L528.24,88.75 L528.46,88.92 L528.67,89.06 L528.89,89.17 L529.11,89.26 L529.33,89.31 L529.54,89.33 L529.76,89.33 L529.98,89.31 L530.2,89.29 L530.41,89.27 L530.63,89.24 L530.85,89.2 L531.07,89.15 L531.28,89.11 L531.5,89.05" fill="none" stroke="#222" stroke-width="1.1" stroke-linejoin="round" stroke-linecap="round"/>
<path d="M336.4,93.4 L530.8,88" fill="none" stroke="#ff0000" stroke-width="1.45" stroke-linejoin="round" stroke-linecap="round"/>
<text x="338.1" y="88.3" font-size="8.2" text-anchor="middle" >1</text>
<text x="357.7" y="86.6" font-size="8.2" text-anchor="middle" >2</text>
<text x="376.3" y="86" font-size="8.2" text-anchor="middle" >3</text>
<text x="394.6" y="85.3" font-size="8.2" text-anchor="middle" >4</text>
<text x="413.4" y="84.2" font-size="8.2" text-anchor="middle" >5</text>
<text x="432.4" y="83.7" font-size="8.2" text-anchor="middle" >6</text>
<text x="450.5" y="82.7" font-size="8.2" text-anchor="middle" >7</text>
<text x="468" y="82.5" font-size="8.2" text-anchor="middle" >8</text>
<text x="484.8" y="82.1" font-size="8.2" text-anchor="middle" >9</text>
<text x="505.1" y="81" font-size="8.2" text-anchor="middle" >10</text>
<text x="523.9" y="79.9" font-size="8.2" text-anchor="middle" >11</text>
<text x="323.9" y="21.6" font-size="10.6" text-anchor="start" >(b)</text>
<line x1="456.5" y1="20.3" x2="474.5" y2="20.3" stroke="#333" stroke-width="1.4"/>
<line x1="456.5" y1="29.8" x2="474.5" y2="29.8" stroke="#ff0000" stroke-width="1.4"/>
<text x="478.7" y="22.9" font-size="7.95" text-anchor="start" >Experiment date</text>
<text x="478.7" y="32.4" font-size="7.95" text-anchor="start" >Fitting curve</text>
<rect x="400.7" y="98.8" width="132.4" height="63.3" fill="#fff" stroke="none"/>
<line x1="400.7" y1="108.6" x2="533.1" y2="108.6" stroke="#efefef" stroke-width="1"/>
<line x1="400.7" y1="119.6" x2="533.1" y2="119.6" stroke="#efefef" stroke-width="1"/>
<line x1="400.7" y1="129.7" x2="533.1" y2="129.7" stroke="#efefef" stroke-width="1"/>
<line x1="400.7" y1="139.9" x2="533.1" y2="139.9" stroke="#efefef" stroke-width="1"/>
<line x1="400.7" y1="150.1" x2="533.1" y2="150.1" stroke="#efefef" stroke-width="1"/>
<line x1="449.7" y1="98.8" x2="449.7" y2="162.1" stroke="#efefef" stroke-width="1"/>
<rect x="400.7" y="98.8" width="132.4" height="63.3" fill="none" stroke="#c8c8c8" stroke-width="1.15"/>
<text x="426" y="106.9" font-size="8.3" text-anchor="middle" >Equation</text>
<text x="491.4" y="106.9" font-size="8.4" text-anchor="middle" >&#949;<tspan font-size="5.6" dy="2.4">0</tspan><tspan dy="-2.4">&#8203;</tspan>+a(t-t<tspan font-size="5.6" dy="2.4">0</tspan><tspan dy="-2.4">&#8203;</tspan>)^b+kt</text>
<text x="425" y="117.7" font-size="8.3" text-anchor="middle" >a</text>
<text x="491.4" y="117.7" font-size="8.4" text-anchor="middle" >-2.78453<tspan font-size="6.3">&#215;</tspan>10<tspan font-size="5.6" dy="-3">-8</tspan></text>
<text x="425" y="127.9" font-size="8.3" text-anchor="middle" >b</text>
<text x="491.4" y="127.9" font-size="8.4" text-anchor="middle" >1.66624</text>
<text x="425" y="138.1" font-size="8.3" text-anchor="middle" >k</text>
<text x="491.4" y="138.1" font-size="8.4" text-anchor="middle" >2.41307<tspan font-size="6.3">&#215;</tspan>10<tspan font-size="5.6" dy="-3">-5</tspan></text>
<text x="425" y="147.8" font-size="8.3" text-anchor="middle" >t<tspan font-size="5.6" dy="2.4">0</tspan><tspan dy="-2.4">&#8203;</tspan></text>
<text x="491.4" y="147.8" font-size="8.4" text-anchor="middle" >202.52988</text>
<text x="425" y="158.1" font-size="8.3" text-anchor="middle" >&#949;<tspan font-size="5.6" dy="2.4">0</tspan><tspan dy="-2.4">&#8203;</tspan></text>
<text x="491.4" y="158.1" font-size="8.4" text-anchor="middle" >1.43668</text>
<text x="0" y="0" font-size="9.45" text-anchor="middle" transform="translate(292.2,85.2) rotate(-90)">Creep strain&#160;&#160;(%)</text>
<text x="427.8" y="197.8" font-size="9.45" text-anchor="middle" >Creep time (s)</text>
<rect x="34.5" y="218.8" width="222" height="164.7" fill="none" stroke="#484848" stroke-width="1.2"/>
<line x1="34.5" y1="383.4" x2="38" y2="383.4" stroke="#484848" stroke-width="1"/>
<line x1="34.5" y1="355.97" x2="38" y2="355.97" stroke="#484848" stroke-width="1"/>
<line x1="34.5" y1="328.55" x2="38" y2="328.55" stroke="#484848" stroke-width="1"/>
<line x1="34.5" y1="301.12" x2="38" y2="301.12" stroke="#484848" stroke-width="1"/>
<line x1="34.5" y1="273.7" x2="38" y2="273.7" stroke="#484848" stroke-width="1"/>
<line x1="34.5" y1="246.27" x2="38" y2="246.27" stroke="#484848" stroke-width="1"/>
<line x1="34.5" y1="218.85" x2="38" y2="218.85" stroke="#484848" stroke-width="1"/>
<line x1="34.5" y1="369.69" x2="36.5" y2="369.69" stroke="#484848" stroke-width="1"/>
<line x1="34.5" y1="342.26" x2="36.5" y2="342.26" stroke="#484848" stroke-width="1"/>
<line x1="34.5" y1="314.84" x2="36.5" y2="314.84" stroke="#484848" stroke-width="1"/>
<line x1="34.5" y1="287.41" x2="36.5" y2="287.41" stroke="#484848" stroke-width="1"/>
<line x1="34.5" y1="259.99" x2="36.5" y2="259.99" stroke="#484848" stroke-width="1"/>
<line x1="34.5" y1="232.56" x2="36.5" y2="232.56" stroke="#484848" stroke-width="1"/>
<line x1="48.6" y1="383.5" x2="48.6" y2="380" stroke="#484848" stroke-width="1"/>
<line x1="90.2" y1="383.5" x2="90.2" y2="380" stroke="#484848" stroke-width="1"/>
<line x1="131.8" y1="383.5" x2="131.8" y2="380" stroke="#484848" stroke-width="1"/>
<line x1="173.4" y1="383.5" x2="173.4" y2="380" stroke="#484848" stroke-width="1"/>
<line x1="215" y1="383.5" x2="215" y2="380" stroke="#484848" stroke-width="1"/>
<line x1="256.6" y1="383.5" x2="256.6" y2="380" stroke="#484848" stroke-width="1"/>
<line x1="69.4" y1="383.5" x2="69.4" y2="381.5" stroke="#484848" stroke-width="1"/>
<line x1="111" y1="383.5" x2="111" y2="381.5" stroke="#484848" stroke-width="1"/>
<line x1="152.6" y1="383.5" x2="152.6" y2="381.5" stroke="#484848" stroke-width="1"/>
<line x1="194.2" y1="383.5" x2="194.2" y2="381.5" stroke="#484848" stroke-width="1"/>
<line x1="235.8" y1="383.5" x2="235.8" y2="381.5" stroke="#484848" stroke-width="1"/>
<text x="31.2" y="386.6" font-size="8.5" text-anchor="end" >0.0</text>
<text x="31.2" y="359.17" font-size="8.5" text-anchor="end" >0.5</text>
<text x="31.2" y="331.75" font-size="8.5" text-anchor="end" >1.0</text>
<text x="31.2" y="304.32" font-size="8.5" text-anchor="end" >1.5</text>
<text x="31.2" y="276.9" font-size="8.5" text-anchor="end" >2.0</text>
<text x="31.2" y="249.47" font-size="8.5" text-anchor="end" >2.5</text>
<text x="31.2" y="222.05" font-size="8.5" text-anchor="end" >3.0</text>
<text x="48.6" y="393.6" font-size="8.3" text-anchor="middle" >0</text>
<text x="90.2" y="393.6" font-size="8.3" text-anchor="middle" >1500</text>
<text x="131.8" y="393.6" font-size="8.3" text-anchor="middle" >3000</text>
<text x="173.4" y="393.6" font-size="8.3" text-anchor="middle" >4500</text>
<text x="215" y="393.6" font-size="8.3" text-anchor="middle" >6000</text>
<text x="256.6" y="393.6" font-size="8.3" text-anchor="middle" >7500</text>
<path d="M48.5,383.4 L48.5,284 L48.9,281 L50.5,278.6 L53,277 L57,275.2 L62,273.6 L68,272 L73,270.6 L75.5,271.2 L77.5,273.4 L80,273.2 L85,272.2 L90,270.4 L96,268.8 L103,267.8 L109,267.3 L111.5,267.8 L113.5,269.6 L116,269.8 L120,268.6 L126,267.4 L132,266.2 L138,264.9 L143.5,263.6 L146.5,264.2 L148.5,265.2 L152,265 L158,263.4 L164,261.6 L170,260 L175.5,259 L177.5,259.8 L180,261.4 L184,261 L190,259 L196,257.2 L202,255.6 L207.5,254 L210,254.4 L213,255.6 L217,255.2 L222,253 L228,250.6 L234,248.2 L239,246.2 L241.5,245.9 L243.5,247 L245.5,247.8 L248.4,246.8" fill="none" stroke="#222" stroke-width="1.1" stroke-linejoin="round" stroke-linecap="round"/>
<path d="M50.9,277.5 L248.4,248.5" fill="none" stroke="#ff0000" stroke-width="1.5" stroke-linejoin="round" stroke-linecap="round"/>
<text x="69" y="267.3" font-size="8.2" text-anchor="middle" >1</text>
<text x="106.1" y="261.4" font-size="8.2" text-anchor="middle" >2</text>
<text x="139.7" y="257.7" font-size="8.2" text-anchor="middle" >3</text>
<text x="171.6" y="254.7" font-size="8.2" text-anchor="middle" >4</text>
<text x="204.4" y="248.2" font-size="8.2" text-anchor="middle" >5</text>
<text x="238.2" y="242.1" font-size="8.2" text-anchor="middle" >6</text>
<text x="39.6" y="232.6" font-size="10.6" text-anchor="start" >(c)</text>
<line x1="172.3" y1="273.6" x2="189.1" y2="273.6" stroke="#333" stroke-width="1.4"/>
<line x1="172.3" y1="283.3" x2="189.1" y2="283.3" stroke="#ff0000" stroke-width="1.4"/>
<text x="191.9" y="276.8" font-size="7.95" text-anchor="start" >Experiment date</text>
<text x="191.9" y="286.1" font-size="7.95" text-anchor="start" >Fitting curve</text>
<rect x="119" y="293.3" width="133.5" height="60.9" fill="#fff" stroke="none"/>
<line x1="119" y1="303.9" x2="252.5" y2="303.9" stroke="#efefef" stroke-width="1"/>
<line x1="119" y1="313.7" x2="252.5" y2="313.7" stroke="#efefef" stroke-width="1"/>
<line x1="119" y1="323.6" x2="252.5" y2="323.6" stroke="#efefef" stroke-width="1"/>
<line x1="119" y1="333.2" x2="252.5" y2="333.2" stroke="#efefef" stroke-width="1"/>
<line x1="119" y1="342.9" x2="252.5" y2="342.9" stroke="#efefef" stroke-width="1"/>
<line x1="167.5" y1="293.3" x2="167.5" y2="354.2" stroke="#efefef" stroke-width="1"/>
<rect x="119" y="293.3" width="133.5" height="60.9" fill="none" stroke="#c8c8c8" stroke-width="1.15"/>
<text x="140.7" y="301.9" font-size="8.3" text-anchor="middle" >Equation</text>
<text x="209.8" y="301.9" font-size="8.4" text-anchor="middle" >&#949;<tspan font-size="5.6" dy="2.4">0</tspan><tspan dy="-2.4">&#8203;</tspan>+a(t-t<tspan font-size="5.6" dy="2.4">0</tspan><tspan dy="-2.4">&#8203;</tspan>)^b+kt</text>
<text x="143" y="312.5" font-size="8.3" text-anchor="middle" >a</text>
<text x="209.8" y="312.5" font-size="8.4" text-anchor="middle" >-0.12344</text>
<text x="143" y="322.2" font-size="8.3" text-anchor="middle" >b</text>
<text x="209.8" y="322.2" font-size="8.4" text-anchor="middle" >1.00002</text>
<text x="143" y="331.7" font-size="8.3" text-anchor="middle" >k</text>
<text x="209.8" y="331.7" font-size="8.4" text-anchor="middle" >0.12354</text>
<text x="143" y="341.1" font-size="8.3" text-anchor="middle" >t<tspan font-size="5.6" dy="2.4">0</tspan><tspan dy="-2.4">&#8203;</tspan></text>
<text x="209.8" y="341.1" font-size="8.4" text-anchor="middle" >137.1271</text>
<text x="143" y="351.2" font-size="8.3" text-anchor="middle" >&#949;<tspan font-size="5.6" dy="2.4">0</tspan><tspan dy="-2.4">&#8203;</tspan></text>
<text x="209.8" y="351.2" font-size="8.4" text-anchor="middle" >1.9113</text>
<text x="0" y="0" font-size="9.2" text-anchor="middle" transform="translate(12.4,296.5) rotate(-90)">Creep strain&#160;&#160;(%)</text>
<text x="145.6" y="408.8" font-size="9.45" text-anchor="middle" >Creep time (s)</text>
<rect x="313.5" y="215.6" width="224.7" height="167.8" fill="none" stroke="#484848" stroke-width="1.2"/>
<line x1="313.5" y1="383.4" x2="317" y2="383.4" stroke="#484848" stroke-width="1"/>
<line x1="313.5" y1="349.84" x2="317" y2="349.84" stroke="#484848" stroke-width="1"/>
<line x1="313.5" y1="316.28" x2="317" y2="316.28" stroke="#484848" stroke-width="1"/>
<line x1="313.5" y1="282.72" x2="317" y2="282.72" stroke="#484848" stroke-width="1"/>
<line x1="313.5" y1="249.16" x2="317" y2="249.16" stroke="#484848" stroke-width="1"/>
<line x1="313.5" y1="215.6" x2="317" y2="215.6" stroke="#484848" stroke-width="1"/>
<line x1="313.5" y1="366.62" x2="315.5" y2="366.62" stroke="#484848" stroke-width="1"/>
<line x1="313.5" y1="333.06" x2="315.5" y2="333.06" stroke="#484848" stroke-width="1"/>
<line x1="313.5" y1="299.5" x2="315.5" y2="299.5" stroke="#484848" stroke-width="1"/>
<line x1="313.5" y1="265.94" x2="315.5" y2="265.94" stroke="#484848" stroke-width="1"/>
<line x1="313.5" y1="232.38" x2="315.5" y2="232.38" stroke="#484848" stroke-width="1"/>
<line x1="327.4" y1="383.4" x2="327.4" y2="379.9" stroke="#484848" stroke-width="1"/>
<line x1="369.5" y1="383.4" x2="369.5" y2="379.9" stroke="#484848" stroke-width="1"/>
<line x1="411.6" y1="383.4" x2="411.6" y2="379.9" stroke="#484848" stroke-width="1"/>
<line x1="453.7" y1="383.4" x2="453.7" y2="379.9" stroke="#484848" stroke-width="1"/>
<line x1="495.8" y1="383.4" x2="495.8" y2="379.9" stroke="#484848" stroke-width="1"/>
<line x1="537.9" y1="383.4" x2="537.9" y2="379.9" stroke="#484848" stroke-width="1"/>
<line x1="348.45" y1="383.4" x2="348.45" y2="381.4" stroke="#484848" stroke-width="1"/>
<line x1="390.55" y1="383.4" x2="390.55" y2="381.4" stroke="#484848" stroke-width="1"/>
<line x1="432.65" y1="383.4" x2="432.65" y2="381.4" stroke="#484848" stroke-width="1"/>
<line x1="474.75" y1="383.4" x2="474.75" y2="381.4" stroke="#484848" stroke-width="1"/>
<line x1="516.85" y1="383.4" x2="516.85" y2="381.4" stroke="#484848" stroke-width="1"/>
<text x="309.6" y="386.6" font-size="8.5" text-anchor="end" >0</text>
<text x="309.6" y="353.04" font-size="8.5" text-anchor="end" >5</text>
<text x="309.6" y="319.48" font-size="8.5" text-anchor="end" >10</text>
<text x="309.6" y="285.92" font-size="8.5" text-anchor="end" >15</text>
<text x="309.6" y="252.36" font-size="8.5" text-anchor="end" >20</text>
<text x="309.6" y="218.8" font-size="8.5" text-anchor="end" >25</text>
<text x="327.4" y="393.6" font-size="8.3" text-anchor="middle" >0</text>
<text x="369.5" y="393.6" font-size="8.3" text-anchor="middle" >1500</text>
<text x="411.6" y="393.6" font-size="8.3" text-anchor="middle" >3000</text>
<text x="453.7" y="393.6" font-size="8.3" text-anchor="middle" >4500</text>
<text x="495.8" y="393.6" font-size="8.3" text-anchor="middle" >6000</text>
<text x="537.9" y="393.6" font-size="8.3" text-anchor="middle" >7500</text>
<path d="M327.5,383.4 L327.5,368.2 L328.5,367.4 L328.5,367.4 L328.94,367.39 L329.47,367.37 L330.09,367.36 L330.81,367.34 L331.65,367.31 L332.62,367.28 L333.74,367.25 L335,367.2 L336.43,367.15 L338.04,367.09 L339.78,367.02 L341.66,366.95 L343.64,366.87 L345.7,366.79 L347.83,366.7 L350,366.6 L352.26,366.5 L354.65,366.39 L357.13,366.27 L359.69,366.15 L362.28,366.02 L364.88,365.89 L367.47,365.75 L370,365.6 L372.5,365.45 L375,365.29 L377.5,365.12 L380,364.95 L382.5,364.77 L385,364.59 L387.5,364.4 L390,364.2 L392.57,363.99 L395.23,363.77 L397.94,363.53 L400.62,363.29 L403.23,363.06 L405.7,362.82 L407.98,362.6 L410,362.4 L411.76,362.21 L413.32,362.03 L414.7,361.86 L415.94,361.7 L417.06,361.54 L418.09,361.39 L419.06,361.24 L420,361.1 L420.86,360.96 L421.6,360.84 L422.24,360.73 L422.81,360.61 L423.34,360.5 L423.87,360.38 L424.41,360.25 L425,360.1 L425.62,359.94 L426.25,359.79 L426.88,359.62 L427.5,359.45 L428.12,359.27 L428.75,359.06 L429.38,358.84 L430,358.6 L430.63,358.33 L431.26,358.03 L431.9,357.72 L432.54,357.39 L433.17,357.05 L433.79,356.7 L434.4,356.35 L435,356 L435.58,355.65 L436.16,355.29 L436.73,354.92 L437.29,354.54 L437.83,354.17 L438.37,353.8 L438.89,353.45 L439.4,353.1 L439.89,352.79 L440.36,352.51 L440.81,352.24 L441.25,351.98 L441.69,351.7 L442.12,351.39 L442.56,351.03 L443,350.6 L443.46,350.1 L443.93,349.53 L444.4,348.91 L444.88,348.26 L445.34,347.59 L445.78,346.92 L446.21,346.25 L446.6,345.6 L446.96,344.97 L447.31,344.33 L447.64,343.68 L447.94,343.04 L448.23,342.39 L448.51,341.76 L448.76,341.12 L449,340.5 L449.22,339.9 L449.41,339.32 L449.59,338.76 L449.75,338.2 L449.9,337.63 L450.04,337.03 L450.17,336.39 L450.3,335.7 L450.43,334.94 L450.54,334.13 L450.65,333.27 L450.76,332.39 L450.85,331.5 L450.94,330.63 L451.02,329.79 L451.1,329 L451.17,328.32 L451.24,327.75 L451.29,327.24 L451.34,326.73 L451.39,326.17 L451.43,325.5 L451.47,324.66 L451.5,323.6 L451.53,322.29 L451.55,320.75 L451.56,319.06 L451.57,317.25 L451.58,315.39 L451.59,313.52 L451.59,311.71 L451.6,310 L451.6,308.29 L451.61,306.48 L451.61,304.65 L451.61,302.85 L451.6,301.16 L451.6,299.64 L451.6,298.37 L451.6,297.4" fill="none" stroke="#222" stroke-width="1.2" stroke-linejoin="round" stroke-linecap="round"/>
<path d="M328.5,367.6 L329.33,367.6 L330.37,367.6 L331.6,367.6 L333,367.6 L334.56,367.59 L336.26,367.58 L338.08,367.55 L340,367.5 L342.09,367.44 L344.4,367.36 L346.88,367.27 L349.47,367.17 L352.13,367.06 L354.8,366.94 L357.44,366.82 L360,366.7 L362.5,366.57 L365,366.44 L367.5,366.3 L370,366.15 L372.5,366 L375,365.84 L377.5,365.67 L380,365.5 L382.53,365.32 L385.12,365.13 L387.72,364.92 L390.31,364.72 L392.87,364.51 L395.35,364.3 L397.74,364.1 L400,363.9 L402.15,363.71 L404.23,363.52 L406.24,363.34 L408.16,363.16 L410,362.98 L411.76,362.79 L413.43,362.6 L415,362.4 L416.51,362.18 L417.96,361.93 L419.35,361.67 L420.64,361.41 L421.81,361.16 L422.84,360.93 L423.71,360.74 L424.4,360.6" fill="none" stroke="#ff0000" stroke-width="1.7" stroke-linejoin="round" stroke-linecap="round"/>
<line x1="464.6" y1="357.3" x2="451.5" y2="348.6" stroke="#111" stroke-width="1"/>
<path d="M448.2,346.3 L453.8,347.9 L451.8,350.9 Z" fill="#111"/>
<text x="429" y="369.8" font-size="8.7" text-anchor="start" >Fracture time=4435 s</text>
<text x="318.8" y="228.7" font-size="10" text-anchor="start" >(d)</text>
<line x1="319.5" y1="238" x2="337.3" y2="238" stroke="#333" stroke-width="1.4"/>
<line x1="319.5" y1="248" x2="337.3" y2="248" stroke="#ff0000" stroke-width="1.4"/>
<text x="339.5" y="241.5" font-size="7.95" text-anchor="start" >Experiment date</text>
<text x="339.5" y="250.7" font-size="7.95" text-anchor="start" >Fitting curve</text>
<rect x="397.5" y="233.1" width="135" height="62.1" fill="#fff" stroke="none"/>
<line x1="397.5" y1="245" x2="532.5" y2="245" stroke="#efefef" stroke-width="1"/>
<line x1="397.5" y1="255" x2="532.5" y2="255" stroke="#efefef" stroke-width="1"/>
<line x1="397.5" y1="264.7" x2="532.5" y2="264.7" stroke="#efefef" stroke-width="1"/>
<line x1="397.5" y1="274.4" x2="532.5" y2="274.4" stroke="#efefef" stroke-width="1"/>
<line x1="397.5" y1="284" x2="532.5" y2="284" stroke="#efefef" stroke-width="1"/>
<line x1="447.3" y1="233.1" x2="447.3" y2="295.2" stroke="#efefef" stroke-width="1"/>
<rect x="397.5" y="233.1" width="135" height="62.1" fill="none" stroke="#c8c8c8" stroke-width="1.15"/>
<text x="423.6" y="241.9" font-size="8.3" text-anchor="middle" >Equation</text>
<text x="489.2" y="241.9" font-size="8.4" text-anchor="middle" >&#949;<tspan font-size="5.6" dy="2.4">0</tspan><tspan dy="-2.4">&#8203;</tspan>+a(t-t<tspan font-size="5.6" dy="2.4">0</tspan><tspan dy="-2.4">&#8203;</tspan>)^b+kt</text>
<text x="422.2" y="252.6" font-size="8.3" text-anchor="middle" >a</text>
<text x="489.2" y="252.6" font-size="8.4" text-anchor="middle" >-0.06419</text>
<text x="422.2" y="262.5" font-size="8.3" text-anchor="middle" >b</text>
<text x="489.2" y="262.5" font-size="8.4" text-anchor="middle" >0.9951</text>
<text x="422.2" y="271.8" font-size="8.3" text-anchor="middle" >k</text>
<text x="489.2" y="271.8" font-size="8.4" text-anchor="middle" >0.0619</text>
<text x="422.2" y="281.4" font-size="8.3" text-anchor="middle" >t<tspan font-size="5.6" dy="2.4">0</tspan><tspan dy="-2.4">&#8203;</tspan></text>
<text x="489.2" y="281.4" font-size="8.4" text-anchor="middle" >78.32844</text>
<text x="422.2" y="291.8" font-size="8.3" text-anchor="middle" >&#949;<tspan font-size="5.6" dy="2.4">0</tspan><tspan dy="-2.4">&#8203;</tspan></text>
<text x="489.2" y="291.8" font-size="8.4" text-anchor="middle" >2.52608</text>
<text x="0" y="0" font-size="9.65" text-anchor="middle" transform="translate(292.4,304.2) rotate(-90)">Creep strain (%)</text>
<text x="425.8" y="409.1" font-size="9.45" text-anchor="middle" >Creep time&#160;&#160;(s)</text>
</svg>
</body></html>
